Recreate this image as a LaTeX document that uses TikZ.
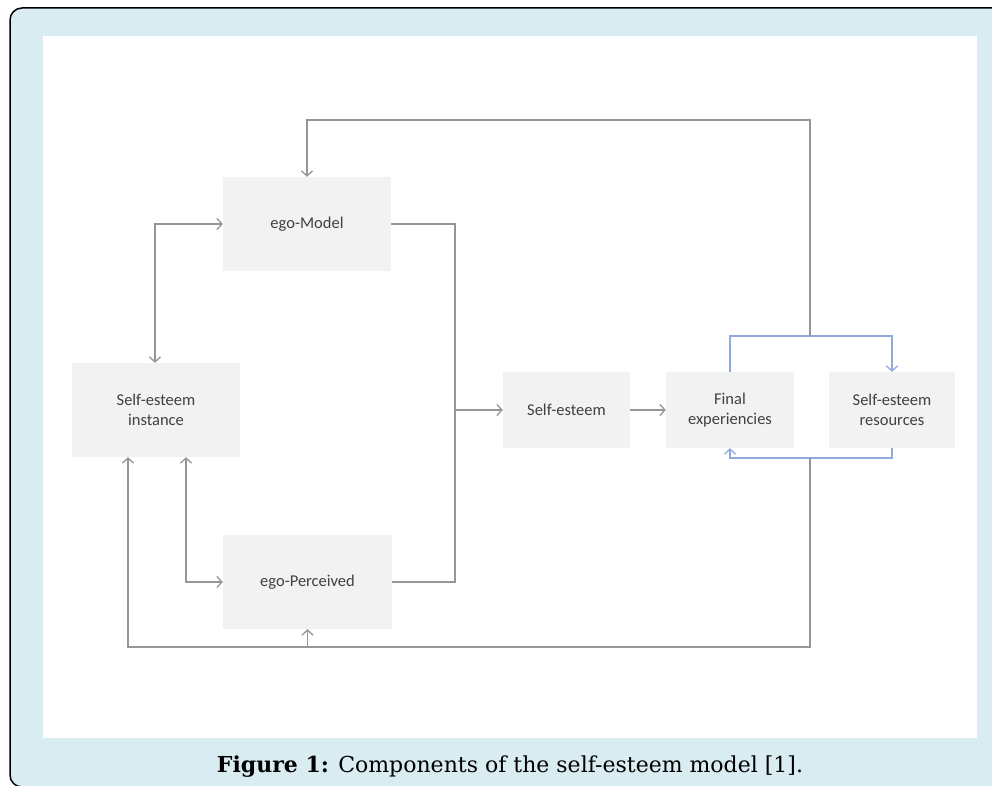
\documentclass[tikz,border=0pt]{standalone}
\usepackage{fontspec}
\setmainfont{Carlito}
\newfontfamily\capfont{DejaVu Serif}
\usetikzlibrary{arrows.meta}
\definecolor{frameblue}{RGB}{216,236,241}
\definecolor{boxgray}{RGB}{242,242,242}
\definecolor{linegray}{RGB}{150,150,150}
\definecolor{lineblue}{RGB}{143,170,220}
\definecolor{boxtext}{RGB}{64,64,64}
\begin{document}
\begin{tikzpicture}[x=1pt,y=-1pt,
  box/.style={fill=boxgray, draw=none, inner sep=0pt, font=\fontsize{16.5}{20}\selectfont, text=boxtext, align=center},
  gline/.style={draw=linegray, line width=1.3pt},
  conn/.style={gline, -{Straight Barb[length=5pt,width=11pt]}},
  dconn/.style={gline, {Straight Barb[length=5pt,width=11pt]}-{Straight Barb[length=5pt,width=11pt]}},
  bconn/.style={draw=lineblue, line width=1.3pt, -{Straight Barb[length=5pt,width=11pt]}}]
\useasboundingbox (0,0) rectangle (992,786);
\draw[fill=frameblue, draw=black, line width=1.5pt, rounded corners=12pt] (10,8) rectangle (1010,787);
\fill[white] (43,36) rectangle (977,738);

\node[box, minimum width=168pt, minimum height=94pt] (model) at (307,224) {ego-Model};
\node[box, minimum width=168pt, minimum height=94pt] (inst) at (156,410) {Self-esteem\\instance};
\node[box, minimum width=169pt, minimum height=94pt] (perc) at (307.5,582) {ego-Perceived};
\node[box, minimum width=127pt, minimum height=76pt] (se) at (566.5,410) {Self-esteem};
\node[box, minimum width=128pt, minimum height=76pt] (final) at (730,410) {Final\\experiencies};
\node[box, minimum width=126pt, minimum height=76pt] (res) at (892,410) {Self-esteem\\resources};

\coordinate (jtop) at (810,336);
\coordinate (jbot) at (810,458);
\coordinate (tr) at (810,120);
\coordinate (br) at (810,647);
\coordinate (bl) at (128,647);
\coordinate (rx) at (455,410);

% blue loops
\draw[bconn] (final.north) |- (res.north |- jtop) -- (res.north);
\draw[bconn] (res.south) -- (res.south |- jbot) -| (final.south);

% top feedback
\draw[conn] (jtop) -- (tr) -| (model.north);
% bottom feedback
\draw[conn] (jbot) -- (br) -- (bl) -- (inst.south -| bl);
\draw[conn] (perc.south |- br) -- (perc.south);

% left links
\draw[dconn] (model.west) -| ([xshift=-1pt]inst.north);
\draw[dconn] ([xshift=30pt]inst.south) |- (perc.west);

% right bracket
\draw[gline] (model.east) -| (rx) |- (perc.east);
\draw[conn] (rx) -- (se.west);
\draw[conn] (se) -- (final);

\node[font=\capfont\fontsize{22}{27}\selectfont, anchor=base] (cap) at (510,772) {\textbf{Figure 1:} Components of the self-esteem model [1].};
\end{tikzpicture}
\end{document}
